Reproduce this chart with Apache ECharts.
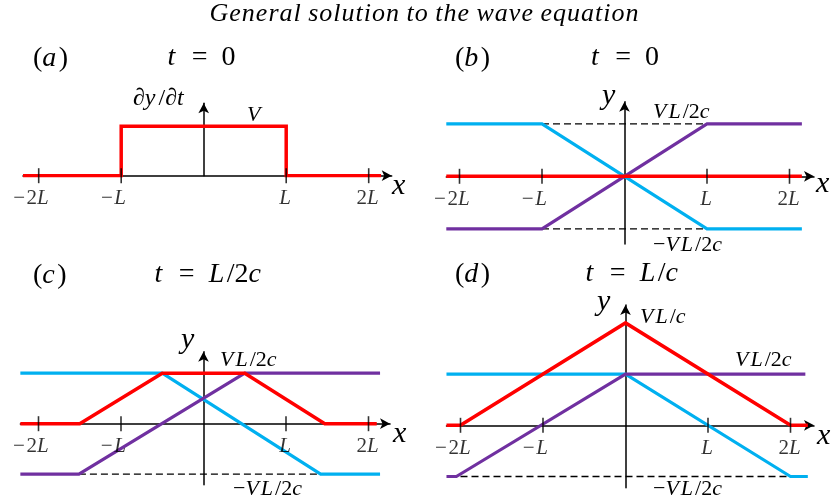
<!DOCTYPE html>
<html>
<head>
<meta charset="utf-8">
<script src="https://cdn.jsdelivr.net/npm/echarts@6/dist/echarts.min.js"></script>
<style>
  html, body { margin: 0; padding: 0; background: #fff; }
  #chart { width: 835px; height: 502px; }
</style>
</head>
<body>
<div id="chart"></div>
<script>
// x is measured in units of L, y in units of VL/2c (panel a: units of V)
const tickValues = [-2, -1, 1, 2];
const tickLabels = ['−2L', '−L', 'L', '2L'];

// (a) initial velocity profile
const velocityA = [[-2.19, 0], [-1, 0], [-1, 1], [1, 1], [1, 0], [2.15, 0]];

// (b) t = 0
const totalB = [[-2.16, 0], [2.15, 0]];
const leftB = [[-2.16, 1], [-1, 1], [1, -1], [2.15, -1]];
const rightB = [[-2.16, -1], [-1, -1], [1, 1], [2.15, 1]];
const guideB = [[[-1, 1], [1, 1]], [[-1, -1], [1, -1]]];

// (c) t = L/2c
const totalC = [[-2.22, 0], [-1.5, 0], [-0.5, 1], [0.5, 1], [1.47, 0], [2.1, 0]];
const leftC = [[-2.22, 1], [-0.5, 1], [1.42, -1], [2.14, -1]];
const rightC = [[-2.22, -1], [-1.51, -1], [0.5, 1], [2.14, 1]];
const guideC = [[[-1.51, -1], [1.42, -1]]];

// (d) t = L/c
const totalD = [[-2.17, 0], [-2, 0], [0, 2], [2, 0], [2.21, 0]];
const leftD = [[-2.17, 1], [0, 1], [2, -1], [2.21, -1]];
const rightD = [[-2.17, -1], [-2.05, -1], [0, 1], [2.18, 1]];
const guideD = [[[-2, -1], [2, -1]]];

const RED = '#ff0000', CYAN = '#00b0f0', PURPLE = '#7030a0';
const FONT = '"Liberation Serif", "DejaVu Serif", serif';

// panel frames: pixel position of the origin, pixels per unit, visible ranges
const panels = [
  { cx: 203.7, cy: 175.7, px: 82.5, py: 49.5, xmin: -2.19, xmax: 2.279, ymin: 0,     ymax: 1.463 },
  { cx: 624.5, cy: 176.3, px: 82.5, py: 52.5, xmin: -2.16, xmax: 2.297, ymin: -1.29, ymax: 1.421 },
  { cx: 203.5, cy: 423.7, px: 82.5, py: 50.5, xmin: -2.22, xmax: 2.261, ymin: -1.21, ymax: 1.426 },
  { cx: 625.5, cy: 425.3, px: 82.5, py: 51.2, xmin: -2.17, xmax: 2.285, ymin: -1.22, ymax: 2.35 }
];

const grids = [], xAxes = [], yAxes = [], series = [];

const TICK_FS = 21;
function tickLabelText(v) {
  const s = tickLabels[tickValues.indexOf(v)] || '';
  const neg = s.charAt(0) === '−';
  const body = neg ? s.slice(1) : s;
  const num = body.replace('L', '');
  let out = neg ? '{m|−}' : '';
  if (num) out += '{r|' + num + '}';
  out += '{i|L}';
  if (neg) out += '{p|\u00a0}';
  return out;
}
const tickRich = {
  m: { fontFamily: FONT, fontSize: TICK_FS, color: '#000', width: 15 },
  r: { fontFamily: FONT, fontSize: TICK_FS, color: '#000' },
  i: { fontFamily: FONT, fontSize: TICK_FS, fontStyle: 'italic', color: '#000', padding: [0, 2, 0, 0] },
  p: { fontFamily: FONT, fontSize: TICK_FS, width: 15 }
};

const arrowLine = { onZero: true, symbol: ['none', 'arrow'], symbolSize: [8, 10], symbolOffset: [0, 0],
                    lineStyle: { color: '#000', width: 1.5 } };

panels.forEach((p, k) => {
  grids.push({
    left: p.cx + p.xmin * p.px,
    width: (p.xmax - p.xmin) * p.px,
    top: p.cy - p.ymax * p.py,
    height: (p.ymax - p.ymin) * p.py,
    containLabel: false
  });
  xAxes.push({
    type: 'value', gridIndex: k, min: p.xmin, max: p.xmax,
    axisLine: arrowLine,
    axisTick: { show: false }, splitLine: { show: false }, axisLabel: { show: false }
  });
  yAxes.push({
    type: 'value', gridIndex: k, min: p.ymin, max: p.ymax,
    axisLine: arrowLine,
    axisTick: { show: false }, splitLine: { show: false }, axisLabel: { show: false }
  });
});

function curve(k, data, color, width, z) {
  series.push({
    type: 'line', xAxisIndex: k, yAxisIndex: k, data: data,
    symbol: 'none', silent: true, animation: false, z: z,
    lineStyle: { color: color, width: width, cap: 'butt', join: 'miter' }
  });
}
function guides(k, segs) {
  segs.forEach(seg => series.push({
    type: 'line', xAxisIndex: k, yAxisIndex: k, data: seg,
    symbol: 'none', silent: true, animation: false, z: 1,
    lineStyle: { color: '#000', width: 1.3, type: [7, 4] }
  }));
}
// tick marks crossing the x axis, with their labels underneath
function ticks(k) {
  series.push({
    type: 'scatter', xAxisIndex: k, yAxisIndex: k,
    data: tickValues.map(v => [v, 0]),
    symbol: 'rect', symbolSize: [1.6, 15], silent: true, animation: false, z: 10,
    itemStyle: { color: '#000' },
    label: {
      show: true, position: 'bottom', distance: 5,
      formatter: params => tickLabelText(params.value[0]),
      rich: tickRich
    },
    labelLayout: { hideOverlap: false }
  });
}

curve(0, velocityA, RED, 3.5, 3);
ticks(0);

guides(1, guideB);
curve(1, leftB, CYAN, 3.2, 2);
curve(1, rightB, PURPLE, 3.2, 2);
curve(1, totalB, RED, 3.5, 3);
ticks(1);

guides(2, guideC);
curve(2, leftC, CYAN, 3.2, 2);
curve(2, rightC, PURPLE, 3.2, 2);
curve(2, totalC, RED, 3.5, 3);
ticks(2);

guides(3, guideD);
curve(3, leftD, CYAN, 3.2, 2);
curve(3, rightD, PURPLE, 3.2, 2);
curve(3, totalD, RED, 3.5, 3);
ticks(3);

// math-style text: {i|..} italic (letters spaced apart a little), {r|..} upright
function tex(x, baseline, str, size, align, gap) {
  const g = gap === undefined ? 0.09 * size : gap;
  const out = str.replace(/\{(\w)\|([^}]*)\}/g, (all, s, t) =>
    s === 'i' ? t.split('').map(ch => ch === ' ' ? '{s| }' : '{i|' + ch + '}').join('') : all);
  return {
    type: 'text', x: x, y: baseline - 0.28 * size, z: 100, silent: true,
    style: {
      text: out, align: align || 'left', verticalAlign: 'middle',
      rich: {
        i: { fontFamily: FONT, fontSize: size, fontStyle: 'italic', fill: '#000', padding: [0, g, 0, 0] },
        s: { fontFamily: FONT, fontSize: size, fill: '#000' },
        r: { fontFamily: FONT, fontSize: size, fill: '#000' }
      }
    }
  };
}

const E = '\u2002';
const texts = [
  tex(424.5, 21.5, '{i|General solution to the wave equation}', 26, 'center', 1),
  tex(33, 66, '{r|(}{i|a}{r|)}', 28),
  tex(201.5, 65, '{i|t}{r|' + E + '=' + E + '0}', 28, 'center'),
  tex(455, 66, '{r|(}{i|b}{r|)}', 28),
  tex(625, 65, '{i|t}{r|' + E + '=' + E + '0}', 28, 'center'),
  tex(33, 283, '{r|(}{i|c}{r|)}', 28),
  tex(209, 282, '{i|t}{r|' + E + '=' + E + '}{i|L}{r|/2}{i|c}', 28, 'center'),
  tex(455, 282, '{r|(}{i|d}{r|)}', 28),
  tex(633, 281, '{i|t}{r|' + E + '=' + E + '}{i|L}{r|/}{i|c}', 28, 'center'),

  tex(133, 105, '{r|∂}{i|y}{r|/∂}{i|t}', 24, 'left', 3),
  tex(247, 121, '{i|V}', 22),
  tex(392, 195, '{i|x}', 30),

  tex(602, 105, '{i|y}', 30),
  tex(653, 118, '{i|VL}{r|/2}{i|c}', 22),
  tex(653, 251, '{r|−}{i|VL}{r|/2}{i|c}', 22),
  tex(816, 193, '{i|x}', 30),

  tex(181, 349, '{i|y}', 30),
  tex(220, 366, '{i|VL}{r|/2}{i|c}', 22),
  tex(233, 495, '{r|−}{i|VL}{r|/2}{i|c}', 22),
  tex(393, 443, '{i|x}', 30),

  tex(597, 311, '{i|y}', 30),
  tex(640, 323, '{i|VL}{r|/}{i|c}', 22),
  tex(735, 366, '{i|VL}{r|/2}{i|c}', 22),
  tex(653, 495, '{r|−}{i|VL}{r|/2}{i|c}', 22),
  tex(817, 445, '{i|x}', 30)
];

const chart = echarts.init(document.getElementById('chart'), null, { renderer: 'canvas' });
chart.setOption({
  animation: false,
  backgroundColor: '#fff',
  grid: grids,
  xAxis: xAxes,
  yAxis: yAxes,
  series: series,
  graphic: texts
});
</script>
</body>
</html>
